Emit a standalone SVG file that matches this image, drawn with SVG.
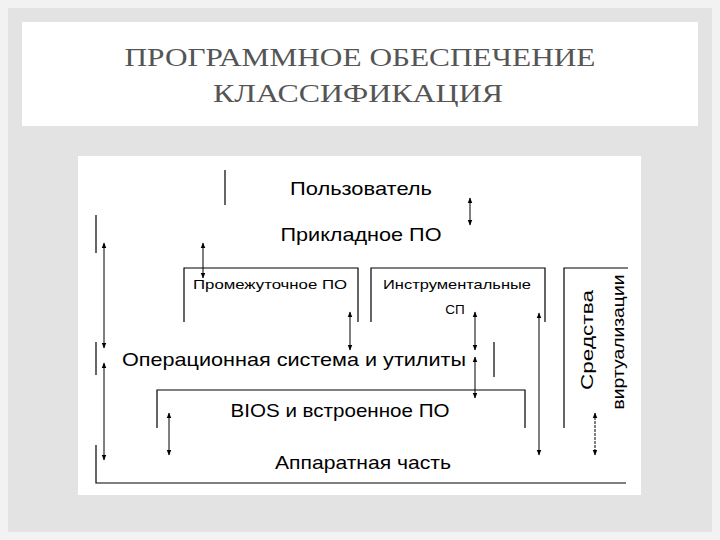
<svg xmlns="http://www.w3.org/2000/svg" width="720" height="540" viewBox="0 0 720 540">
<defs>
<marker id="a" viewBox="0 0 10 10" refX="9" refY="5" markerWidth="6" markerHeight="6" orient="auto-start-reverse"><path d="M0,1 L10,5 L0,9 z" fill="#000"/></marker>
<style>
.l{stroke:#000;stroke-width:1.2;fill:none}
.ar{stroke:#000;stroke-width:1;marker-start:url(#a);marker-end:url(#a)}
.t{font-family:"Liberation Sans",Arial,sans-serif;fill:#000;text-anchor:middle}
.h{font-family:"Liberation Serif","Times New Roman",serif;fill:#555;font-size:25px;text-anchor:middle}
</style>
</defs>
<rect width="720" height="540" fill="#f2f2f2"/>
<rect x="8" y="8" width="704" height="524" fill="#e3e3e3"/>
<rect x="22" y="22" width="676" height="104" fill="#fff"/>
<text class="h" x="360" y="66" textLength="471" lengthAdjust="spacingAndGlyphs">ПРОГРАММНОЕ ОБЕСПЕЧЕНИЕ</text>
<text class="h" x="358" y="102" textLength="290" lengthAdjust="spacingAndGlyphs">КЛАССИФИКАЦИЯ</text>
<rect x="78" y="156" width="563" height="339" fill="#fff"/>
<g id="frames">
<path class="l" d="M225,170V205"/>
<path class="l" d="M96,215V253M96,342V375M96,445V483H626"/>
<path class="l" d="M184,322V268H358V322"/>
<path class="l" d="M371,322V268H545V322"/>
<path class="l" d="M564,428V268H628"/>
<path class="l" d="M494,342V377"/>
<path class="l" d="M157,428V390H525V428"/>
</g>
<g id="connectors">
<line class="ar" x1="104" y1="243" x2="104" y2="348"/>
<line class="ar" x1="104" y1="363" x2="104" y2="460"/>
<line class="ar" x1="470" y1="198" x2="470" y2="225"/>
<line class="ar" x1="203" y1="243" x2="203" y2="278"/>
<line class="ar" x1="350" y1="312" x2="350" y2="350"/>
<line class="ar" x1="475" y1="312" x2="475" y2="350"/>
<line class="ar" x1="475" y1="357" x2="475" y2="398"/>
<line class="ar" x1="169" y1="413" x2="169" y2="455"/>
<line class="ar" x1="539" y1="313" x2="539" y2="455"/>
<line class="ar" x1="595" y1="413" x2="595" y2="455" stroke-dasharray="3,1"/>
</g>
<g id="user"><text class="t" x="361" y="195" font-size="19" textLength="142" lengthAdjust="spacingAndGlyphs">Пользователь</text></g>
<g id="app"><text class="t" x="361" y="241" font-size="19" textLength="161" lengthAdjust="spacingAndGlyphs">Прикладное ПО</text></g>
<g id="middleware"><text class="t" x="270" y="289" font-size="13" textLength="154" lengthAdjust="spacingAndGlyphs">Промежуточное ПО</text></g>
<g id="tools"><text class="t" x="457" y="289" font-size="13.5" textLength="148" lengthAdjust="spacingAndGlyphs">Инструментальные</text><text class="t" x="455" y="314" font-size="13.5">СП</text></g>
<g id="os"><text class="t" x="294" y="366" font-size="19" textLength="344" lengthAdjust="spacingAndGlyphs">Операционная система и утилиты</text></g>
<g id="bios"><text class="t" x="340" y="417" font-size="19" textLength="219" lengthAdjust="spacingAndGlyphs">BIOS и встроенное ПО</text></g>
<g id="hw"><text class="t" x="363" y="469" font-size="19" textLength="176" lengthAdjust="spacingAndGlyphs">Аппаратная часть</text></g>
<g id="virt"><text class="t" font-size="17" transform="translate(593,340) rotate(-90)" textLength="100" lengthAdjust="spacingAndGlyphs">Средства</text><text class="t" font-size="17" transform="translate(624,342) rotate(-90)" textLength="135" lengthAdjust="spacingAndGlyphs">виртуализации</text></g>
</svg>
